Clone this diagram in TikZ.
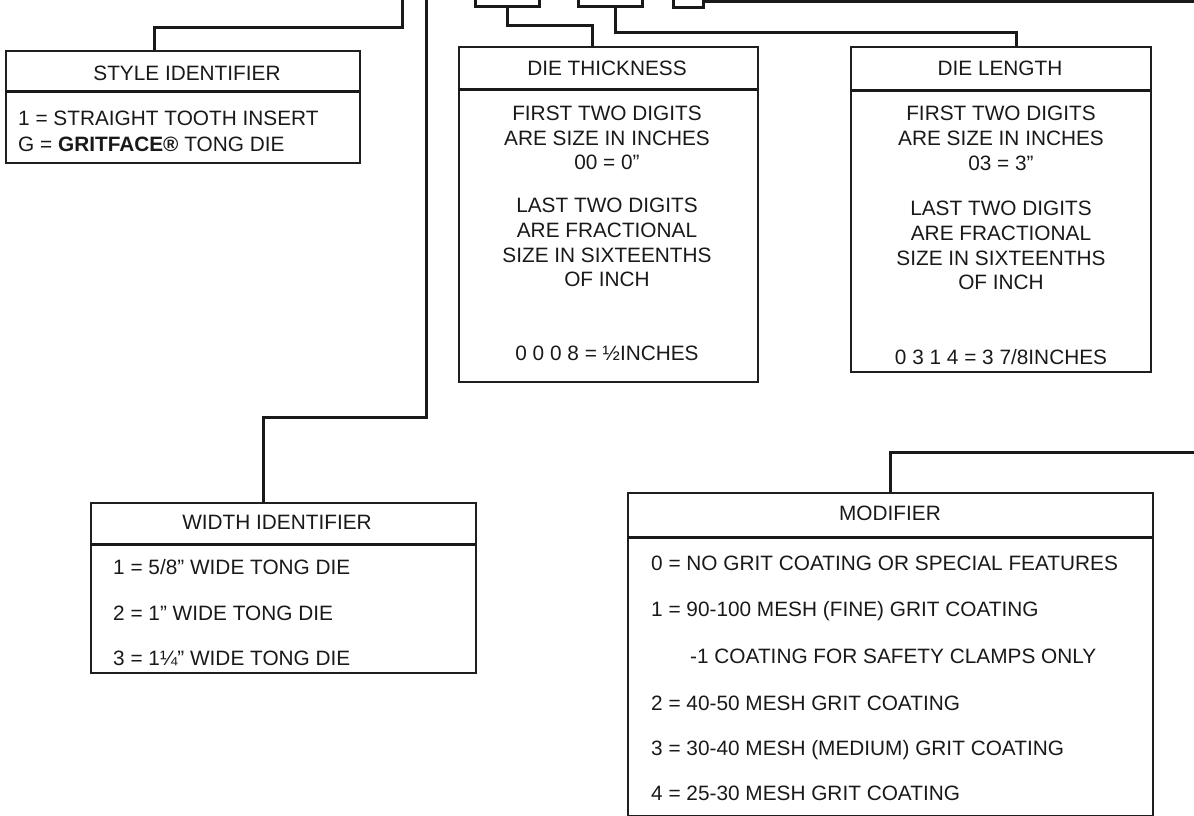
\documentclass[tikz,border=0pt]{standalone}
\usepackage{fontspec}
\setmainfont{Liberation Sans}
\begin{document}
\begin{tikzpicture}[x=1pt,y=-1pt,
  box/.style={draw=black!88, line width=2pt, rectangle, inner sep=0pt, anchor=north west},
  bracket/.style={draw=black!90, line width=3pt, rectangle, inner sep=0pt, anchor=south west, minimum height=30pt},
  conn/.style={draw=black!90, line width=3pt},
  divline/.style={draw=black!90, line width=3pt},
  txt/.style={font=\fontsize{20.8}{24}\selectfont, inner sep=0pt, text=black!90},
  lt/.style={txt, anchor=base west},
  ct/.style={txt, anchor=base},
]
\useasboundingbox (0,0) rectangle (1194,816);
\clip (0,0) rectangle (1194,816);

% ---------- boxes ----------
\node[box, minimum width=354pt, minimum height=112pt] (style) at (5,50) {};
\node[box, minimum width=299pt, minimum height=335pt] (thick) at (458,46) {};
\node[box, minimum width=300pt, minimum height=325pt] (length) at (850,46) {};
\node[box, minimum width=385pt, minimum height=170pt] (width) at (90,502) {};
\node[box, minimum width=525pt, minimum height=323pt] (mod) at (627,492) {};

% dividers
\draw[divline] (5,91) -- (359,91);
\draw[divline] (458,89) -- (757,89);
\draw[divline] (850,90) -- (1150,90);
\draw[divline] (90,544) -- (475,544);
\draw[divline] (627,537) -- (1152,537);

% ---------- top brackets ----------
\node[bracket, minimum width=64pt] (b1) at (474,8) {};
\node[bracket, minimum width=64pt] (b2) at (577,8) {};
\coordinate (b3a) at (673,-5);
\coordinate (b3b) at (673,8);
\coordinate (b3c) at (703,8);
\coordinate (b3d) at (703,2);
\coordinate (rtop) at (1200,2);
\coordinate (sTop) at (402,-5);
\coordinate (wTop) at (426,-5);
\coordinate (mEdge) at (1200,452);

% ---------- connectors ----------
\draw[conn] (sTop) -- (402,28) -| ([xshift=149pt]style.north west);
\draw[conn] (wTop) -- (426,417) -| ([xshift=173pt]width.north west);
\draw[conn] (b1.south) -- ++(0,18) -| ([xshift=134pt]thick.north west);
\draw[conn] ([xshift=5pt]b2.south) -- ++(0,25) -| ([xshift=166pt]length.north west);
\draw[conn] (b3a) -- (b3b) -- (b3c) -- (b3d) -- (rtop);
\draw[conn] (mEdge) -| ([xshift=263pt]mod.north west);

% ---------- style identifier ----------
\node[ct] (st0) at (187,81) {STYLE IDENTIFIER};
\node[lt] (st1) at (18,125) {1 = STRAIGHT TOOTH INSERT};
\node[lt] (st2) at (18,151) {G = \textbf{GRITFACE®} TONG DIE};

% ---------- die thickness ----------
\node[ct] (th0) at (607,75) {DIE THICKNESS};
\node[ct] (th1) at (607,120) {FIRST TWO DIGITS};
\node[ct] (th2) at (607,145) {ARE SIZE IN INCHES};
\node[ct] (th3) at (607,169) {00 = 0”};
\node[ct] (th4) at (607,212) {LAST TWO DIGITS};
\node[ct] (th5) at (607,237) {ARE FRACTIONAL};
\node[ct] (th6) at (607,262) {SIZE IN SIXTEENTHS};
\node[ct] (th7) at (607,286) {OF INCH};
\node[ct] (th8) at (607,360) {0 0 0 8 = ½INCHES};

% ---------- die length ----------
\node[ct] (ln0) at (1000,76) {DIE LENGTH};
\node[ct] (ln1) at (1001,120) {FIRST TWO DIGITS};
\node[ct] (ln2) at (1001,145) {ARE SIZE IN INCHES};
\node[ct] (ln3) at (1001,170) {03 = 3”};
\node[ct] (ln4) at (1001,215) {LAST TWO DIGITS};
\node[ct] (ln5) at (1001,240) {ARE FRACTIONAL};
\node[ct] (ln6) at (1001,265) {SIZE IN SIXTEENTHS};
\node[ct] (ln7) at (1001,289) {OF INCH};
\node[ct] (ln8) at (1001,364) {0 3 1 4 = 3 7/8INCHES};

% ---------- width identifier ----------
\node[ct] (wd0) at (277,529) {WIDTH IDENTIFIER};
\node[lt] (wd1) at (113,574) {1 = 5/8” WIDE TONG DIE};
\node[lt] (wd2) at (113,620) {2 = 1” WIDE TONG DIE};
\node[lt] (wd3) at (113,665) {3 = 1¼” WIDE TONG DIE};

% ---------- modifier ----------
\node[ct] (md0) at (890,520) {MODIFIER};
\node[lt] (md1) at (651,570) {0 = NO GRIT COATING OR SPECIAL FEATURES};
\node[lt] (md2) at (651,616) {1 = 90-100 MESH (FINE) GRIT COATING};
\node[lt] (md3) at (690,663) {-1 COATING FOR SAFETY CLAMPS ONLY};
\node[lt] (md4) at (651,710) {2 = 40-50 MESH GRIT COATING};
\node[lt] (md5) at (651,755) {3 = 30-40 MESH (MEDIUM) GRIT COATING};
\node[lt] (md6) at (651,800) {4 = 25-30 MESH GRIT COATING};
\end{tikzpicture}
\end{document}
